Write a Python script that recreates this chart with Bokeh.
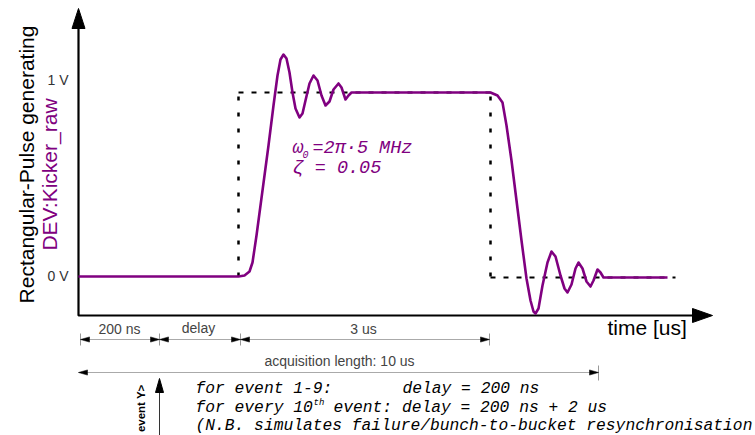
from math import pi
from bokeh.plotting import figure
from bokeh.models import Range1d
from bokeh.core.properties import value
from bokeh.embed import file_html
from bokeh.resources import INLINE

# ---------------- data (diagram coordinates) ----------------
# measured response (purple)
wave_x = [78, 238, 244, 249, 252, 256, 262, 268, 273, 277, 280, 283, 286, 289, 292, 295, 299,
          302, 305, 309, 313, 317, 321, 325, 329, 333, 338, 341, 345, 348, 351, 490, 497,
          502, 506, 511, 516, 521, 526, 530, 533, 535, 538, 542, 547, 551, 555, 560, 564,
          567, 571, 575, 578, 582, 586, 590, 593, 597, 600, 603, 667]
wave_y = [276, 276, 275, 271, 262, 235, 190, 145, 105, 75, 59, 54, 58, 72, 92, 108, 117,
          113, 100, 83, 75, 80, 95, 105, 101, 89, 83, 87, 99, 95, 92, 92, 95,
          102, 125, 160, 200, 240, 278, 300, 311, 313, 308, 285, 262, 251, 256, 275, 288,
          292, 284, 268, 262, 268, 281, 286, 280, 269, 272, 277, 277]

# ideal rectangular pulse (dashed)
pulse_start, pulse_end = 238, 490
level_low, level_high = 276, 92
pulse_tail_end = 675

# axes
origin_x, origin_y = 78, 315
yaxis_tip = 8
xaxis_tip = 712
ytick_labels = ["1 V", "0 V"]
ytick_pos = [79, 275]

# dimension lines
dim1_y = 339
dim1_edges = [80, 159, 240, 489]
dim1_labels = ["200 ns", "delay", "3 us"]
dim1_label_x = [119, 198, 363]
dim2_y = 372
dim2_edges = [78, 598]
dim2_label = "acquisition length: 10 us"

# trigger event arrow
event_x = 159
event_tip = 378

# notes
notes_x = 195
notes_y = [388, 407, 425]

PURPLE = "#800080"

p = figure(width=755, height=435, x_range=Range1d(0, 755), y_range=Range1d(435, 0),
           output_backend="svg", toolbar_location=None, min_border=0)
p.axis.visible = False
p.grid.visible = False
p.outline_line_color = None
p.background_fill_color = "white"


def head(tx, ty, dx, dy, length, half):
    # triangle with tip at (tx, ty) pointing in direction (dx, dy)
    bx, by = tx - dx * length, ty - dy * length
    px, py = -dy * half, dx * half
    return [tx, bx + px, bx - px], [ty, by + py, by - py]


# ---------------- axes ----------------
p.line([origin_x, origin_x, xaxis_tip - 18], [yaxis_tip + 18, origin_y, origin_y],
       line_color="black", line_width=2.2)
hx1, hy1 = head(origin_x, yaxis_tip, 0, -1, 20, 6.5)
hx2, hy2 = head(xaxis_tip, origin_y, 1, 0, 20, 7)
p.patches([hx1, hx2], [hy1, hy2], fill_color="black", line_color="black")

p.text(x=[68, 68], y=ytick_pos, text=ytick_labels, text_align="right", text_baseline="middle",
       text_font=value("Liberation Sans"), text_font_size="14px", text_color="#333333")

p.text(x=[26], y=[164], text=["Rectangular-Pulse generating"], angle=pi / 2,
       text_align="center", text_baseline="middle", text_font=value("Liberation Sans"),
       text_font_size="21px", text_color="black")
p.text(x=[49], y=[174], text=["DEV:Kicker_raw"], angle=pi / 2,
       text_align="center", text_baseline="middle", text_font=value("Liberation Sans"),
       text_font_size="21px", text_color=PURPLE)

p.text(x=[607], y=[327], text=["time [us]"], text_align="left", text_baseline="middle",
       text_font=value("Liberation Sans"), text_font_size="21px", text_color="black")

# ---------------- ideal pulse ----------------
p.line([pulse_start, pulse_end], [level_high, level_high], line_color="black",
       line_width=2, line_dash="5 8")
p.line([pulse_end, pulse_tail_end], [level_low + 1, level_low + 1], line_color="black",
       line_width=2, line_dash="5 8")
p.multi_line([[pulse_start, pulse_start], [pulse_end, pulse_end]],
             [[level_low, level_high + 4], [level_low, level_high + 4]],
             line_color="black", line_width=2.5, line_dash="4 12")

# ---------------- response ----------------
p.line(wave_x, wave_y, line_color=PURPLE, line_width=2.6, line_join="round")

p.text(x=[292], y=[148], text=["ω"], text_baseline="middle",
       text_font=value("Liberation Mono"), text_font_style="italic",
       text_font_size="18.5px", text_color=PURPLE)
p.text(x=[302], y=[154], text=["0"], text_baseline="middle",
       text_font=value("Liberation Mono"), text_font_style="italic",
       text_font_size="10px", text_color=PURPLE)
p.text(x=[312, 292], y=[148, 168], text=["=2π·5 MHz", "ζ = 0.05"], text_baseline="middle",
       text_font=value("Liberation Mono"), text_font_style="italic",
       text_font_size="18.5px", text_color=PURPLE)

# ---------------- dimension lines ----------------
seg_x = [[dim1_edges[i], dim1_edges[i + 1]] for i in range(len(dim1_edges) - 1)]
seg_y = [[dim1_y, dim1_y] for _ in seg_x]
seg_x.append(dim2_edges)
seg_y.append([dim2_y, dim2_y])
p.multi_line(seg_x, seg_y, line_color="#aaaaaa", line_width=1)

tick_x = [[e, e] for e in dim1_edges] + [[dim2_edges[1], dim2_edges[1]]]
tick_y = [[dim1_y - 6, dim1_y + 6] for _ in dim1_edges] + [[dim2_y - 7, dim2_y + 8]]
p.multi_line(tick_x, tick_y, line_color="#999999", line_width=1)

hxs, hys = [], []
for a, b in zip(dim1_edges[:-1], dim1_edges[1:]):
    for tx, d in ((a, -1), (b, 1)):
        hx, hy = head(tx, dim1_y, d, 0, 9, 2.6)
        hxs.append(hx)
        hys.append(hy)
for tx, d in ((dim2_edges[0], -1), (dim2_edges[1], 1)):
    hx, hy = head(tx, dim2_y, d, 0, 9, 2.6)
    hxs.append(hx)
    hys.append(hy)
p.patches(hxs, hys, fill_color="black", line_color="black", line_width=0.5)

p.text(x=dim1_label_x, y=[328, 327, 328], text=dim1_labels, text_align="center",
       text_baseline="middle", text_font=value("Liberation Sans"), text_font_size="14px",
       text_color="#444444")
p.text(x=[339], y=[360], text=[dim2_label], text_align="center",
       text_baseline="middle", text_font=value("Liberation Sans"), text_font_size="14px",
       text_color="#444444")

# ---------------- trigger event ----------------
p.line([event_x, event_x], [440, event_tip + 12], line_color="#333333", line_width=1)
ex, ey = head(event_x, event_tip, 0, -1, 14, 4)
p.patch(ex, ey, fill_color="black", line_color="black")
p.text(x=[140], y=[384], text=["event Y>"], angle=pi / 2, text_align="right",
       text_baseline="middle", text_font=value("Liberation Sans"), text_font_style="bold",
       text_font_size="11.5px", text_color="black")

# ---------------- notes ----------------
mono = dict(text_baseline="middle", text_font=value("Liberation Mono"),
            text_font_style="italic", text_font_size="16.3px", text_color="black")
p.text(x=[notes_x, 402], y=[notes_y[0], notes_y[0]],
       text=["for event 1-9:", "delay = 200 ns"], **mono)
p.text(x=[notes_x, 333], y=[notes_y[1], notes_y[1]],
       text=["for every 10", "event: delay = 200 ns + 2 us"], **mono)
p.text(x=[313], y=[notes_y[1] - 5], text=["th"], text_baseline="middle",
       text_font=value("Liberation Mono"), text_font_style="italic",
       text_font_size="9px", text_color="black")
p.text(x=[notes_x], y=[notes_y[2]],
       text=["(N.B. simulates failure/bunch-to-bucket resynchronisation"], **mono)

open("out.html", "w").write(file_html(p, INLINE))
